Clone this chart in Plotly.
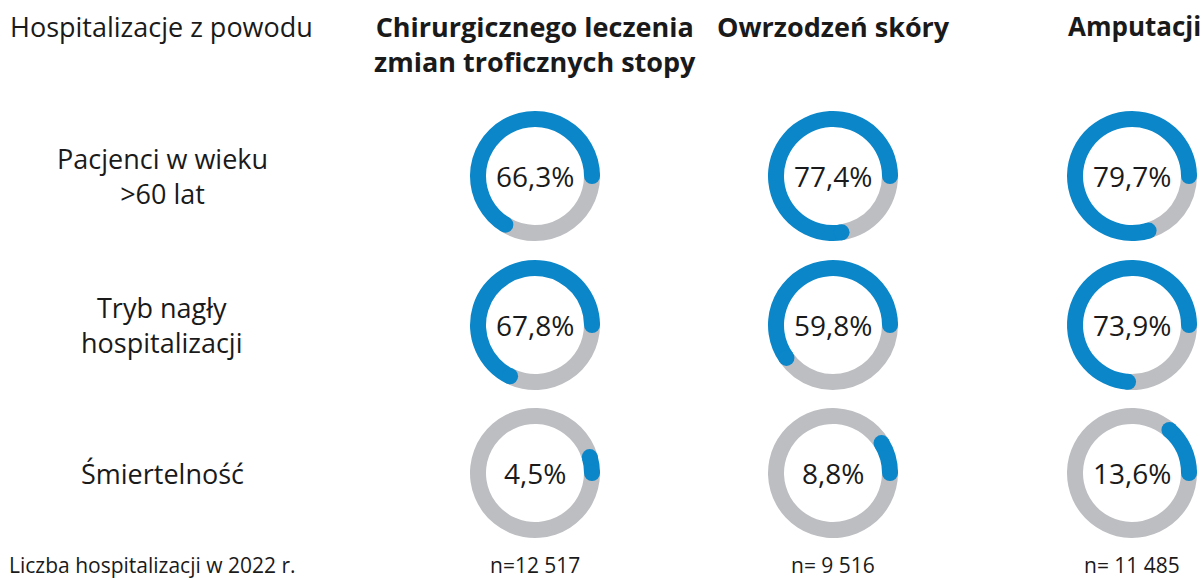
import math
import plotly.graph_objects as go

# ---- data ----
col_headers = ["Chirurgicznego leczenia<br>zmian troficznych stopy", "Owrzodzeń skóry", "Amputacji"]
row_labels = ["Pacjenci w wieku<br>>60 lat", "Tryb nagły<br>hospitalizacji", "Śmiertelność"]
top_left_label = "Hospitalizacje z powodu"
bottom_label = "Liczba hospitalizacji w 2022 r."
n_labels = ["n=12 517", "n= 9 516", "n= 11 485"]
age60 = [66.3, 77.4, 79.7]
urgent = [67.8, 59.8, 73.9]
mortality = [4.5, 8.8, 13.6]

values = [age60, urgent, mortality]

# ---- layout / styles ----
W, H = 1204, 578
BLUE = "#0a86c9"
GRAY = "#bdbec2"
TXT = "#1a1a1a"
FONT = "Open Sans, Lato, sans-serif"
col_x = [535, 833, 1132]
row_y = [176, 325, 473]
R = 65
T = 16
hole = (R - T) / R

def px(x):
    return x / W

def py(y):
    return 1 - y / H

def fmt(v):
    return f"{v:.1f}".replace(".", ",") + "%"

fig = go.Figure()
shapes = []
annotations = []

for r, row in enumerate(values):
    for c, v in enumerate(row):
        cx, cy = col_x[c], row_y[r]
        fig.add_trace(go.Pie(
            values=[100 - v, v],
            sort=False,
            direction="clockwise",
            rotation=90,
            hole=hole,
            marker=dict(colors=[GRAY, BLUE], line=dict(width=0)),
            textinfo="none",
            hoverinfo="skip",
            showlegend=False,
            domain=dict(x=[px(cx - R), px(cx + R)], y=[py(cy + R), py(cy - R)]),
        ))
        # rounded caps at both ends of the blue arc
        rm = R - T / 2
        for ang in (0.0, 360.0 * v / 100.0):
            a = math.radians(ang)
            ex = cx + rm * math.cos(a)
            ey = cy - rm * math.sin(a)
            shapes.append(dict(
                type="circle", xref="paper", yref="paper", layer="above",
                x0=px(ex - T / 2), x1=px(ex + T / 2),
                y0=py(ey + T / 2), y1=py(ey - T / 2),
                fillcolor=BLUE, line=dict(width=0),
            ))
        annotations.append(dict(
            x=px(cx), y=py(cy), xref="paper", yref="paper",
            text=fmt(v), showarrow=False, xanchor="center", yanchor="middle",
            font=dict(family=FONT, size=28, color=TXT),
        ))

# column headers
for c, h in enumerate(col_headers):
    xa = "center"
    x = px(col_x[c])
    if c == 2:
        xa = "right"
        x = px(1203)
    annotations.append(dict(
        x=x, y=py(6), xref="paper", yref="paper", text=f"<b>{h}</b>",
        showarrow=False, xanchor=xa, yanchor="top", align="center",
        font=dict(family=FONT, size=27 if c < 2 else 26, color=TXT),
    ))

annotations.append(dict(
    x=px(8), y=py(6), xref="paper", yref="paper", text=top_left_label,
    showarrow=False, xanchor="left", yanchor="top",
    font=dict(family=FONT, size=27, color=TXT),
))

for r, lab in enumerate(row_labels):
    annotations.append(dict(
        x=px(162), y=py(row_y[r]), xref="paper", yref="paper", text=lab,
        showarrow=False, xanchor="center", yanchor="middle", align="center",
        font=dict(family=FONT, size=27, color=TXT),
    ))

annotations.append(dict(
    x=px(7), y=py(565), xref="paper", yref="paper", text=bottom_label,
    showarrow=False, xanchor="left", yanchor="middle",
    font=dict(family=FONT, size=21, color=TXT),
))
for c, t in enumerate(n_labels):
    annotations.append(dict(
        x=px(col_x[c]), y=py(565), xref="paper", yref="paper", text=t,
        showarrow=False, xanchor="center", yanchor="middle",
        font=dict(family=FONT, size=21, color=TXT),
    ))

fig.update_layout(
    width=W, height=H,
    margin=dict(l=0, r=0, t=0, b=0),
    paper_bgcolor="white", plot_bgcolor="white",
    shapes=shapes, annotations=annotations,
    showlegend=False,
)
fig.write_html(
    "out.html",
    config={"displayModeBar": False},
    post_script="document.body.style.margin='0';document.body.style.overflow='hidden';",
)
